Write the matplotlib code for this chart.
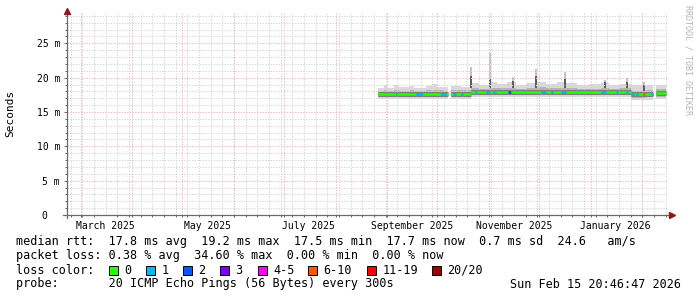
import numpy as np
import matplotlib
matplotlib.use("Agg")
import matplotlib.pyplot as plt
import matplotlib.dates as mdates
from matplotlib.patches import Rectangle

plt.rcParams['font.family'] = ['DejaVu Sans Mono', 'DejaVu Sans']

# graph covers 360 days up to the timestamp
t_end = np.datetime64("2026-02-15T20:46:47")
t_start = t_end - np.timedelta64(360, "D")
data_end = "2026-02-15T09:00"

# median rtt (ms) per segment and loss bucket, nan = no data
med_start = ["2025-08-26T06:00", "2025-09-06T00:00", "2025-09-07T00:00", "2025-09-18T12:00",
             "2025-09-22T18:00", "2025-10-03T12:00", "2025-10-06T00:00", "2025-10-07T18:00",
             "2025-10-09T12:00", "2025-10-10T18:00", "2025-10-12T00:00", "2025-10-15T12:00",
             "2025-10-16T12:00", "2025-10-21T00:00", "2025-10-23T12:00", "2025-10-25T00:00",
             "2025-10-30T00:00", "2025-11-01T12:00", "2025-11-03T18:00", "2025-11-05T00:00",
             "2025-11-12T18:00", "2025-11-14T12:00", "2025-12-02T00:00", "2025-12-05T00:00",
             "2025-12-08T00:00", "2025-12-09T18:00", "2025-12-14T12:00", "2025-12-17T00:00",
             "2026-01-07T12:00", "2026-01-10T00:00", "2026-01-16T00:00", "2026-01-17T18:00",
             "2026-01-22T00:00", "2026-01-23T18:00", "2026-01-25T00:00", "2026-01-27T00:00",
             "2026-01-28T00:00", "2026-01-29T12:00", "2026-02-01T12:00", "2026-02-02T12:00",
             "2026-02-06T00:00", "2026-02-07T06:00", "2026-02-09T00:00"]
med_ms = [17.6, 17.6, 17.6, 17.6, 17.6, 17.6, 17.6, np.nan,
          17.6, 17.6, 17.6, 17.6, 17.6, 17.85, 17.85, 17.85,
          17.85, 17.85, 17.85, 17.85, 17.85, 17.85, 17.85, 17.85,
          17.85, 17.85, 17.85, 17.85, 17.85, 17.85, 17.85, 17.85,
          17.85, 17.85, 17.6, 17.6, 17.6, 17.6, 17.6, 17.65,
          17.65, np.nan, 17.75]
med_loss = [0, 1, 0, 1, 0, 1, 0, 0,
            0, 1, 0, 1, 0, 0, 1, 0,
            1, 0, 1, 0, 2, 0, 1, 0,
            1, 0, 1, 0, 1, 0, 1, 0,
            1, 0, 1, 0, 1, 0, 5, 0,
            1, 0, 0]

# smoke: spread of the 20 pings (ms), outer and inner band
smoke_start = ["2025-08-26T06:00", "2025-08-30", "2025-09-01", "2025-09-05", "2025-09-08",
               "2025-09-14", "2025-09-17", "2025-09-24", "2025-09-28", "2025-10-01",
               "2025-10-05", "2025-10-07T18:00", "2025-10-09T12:00", "2025-10-15", "2025-10-21",
               "2025-10-26", "2025-11-01", "2025-11-06", "2025-11-12", "2025-11-17",
               "2025-11-24", "2025-11-29", "2025-12-05", "2025-12-12", "2025-12-17",
               "2025-12-24", "2025-12-31", "2026-01-07", "2026-01-12", "2026-01-18",
               "2026-01-25", "2026-02-03", "2026-02-07T06:00", "2026-02-09"]
smoke_lo = [16.85, 16.85, 16.9, 16.85, 16.85, 16.9, 16.85, 16.9, 16.85, 16.9,
            16.85, np.nan, 16.85, 16.85, 17.2, 17.25, 17.2, 17.25, 17.2, 17.25,
            17.2, 17.25, 17.2, 17.25, 17.2, 17.25, 17.2, 17.2, 17.25, 17.2,
            16.75, 16.8, np.nan, 16.85]
smoke_lo2 = [17.15, 17.15, 17.2, 17.2, 17.15, 17.2, 17.15, 17.2, 17.15, 17.2,
             17.15, np.nan, 17.15, 17.2, 17.5, 17.5, 17.5, 17.5, 17.5, 17.5,
             17.5, 17.55, 17.5, 17.5, 17.5, 17.5, 17.5, 17.5, 17.5, 17.5,
             17.1, 17.15, np.nan, 17.2]
smoke_hi2 = [18.1, 18.15, 18.1, 18.2, 18.1, 18.2, 18.1, 18.2, 18.15, 18.2,
             18.1, np.nan, 18.2, 18.2, 18.5, 18.4, 18.5, 18.5, 18.5, 18.4,
             18.5, 18.6, 18.5, 18.5, 18.5, 18.4, 18.4, 18.5, 18.4, 18.5,
             18.1, 18.2, np.nan, 18.3]
smoke_hi = [18.5, 18.9, 18.55, 19.0, 18.6, 18.85, 18.55, 18.8, 19.1, 18.7,
            18.6, np.nan, 18.8, 18.7, 19.2, 19.0, 19.3, 19.1, 19.3, 19.0,
            19.2, 19.4, 19.1, 19.3, 19.2, 19.0, 19.1, 19.2, 19.0, 19.1,
            18.9, 18.9, np.nan, 18.9]

# single tall pings
spike_t = ["2025-10-21T06:00", "2025-11-01T18:00", "2025-11-15T18:00", "2025-11-29T00:00",
           "2025-12-16T12:00", "2026-01-09T12:00", "2026-01-22T18:00", "2026-02-02T00:00"]
spike_mid = [20.2, 19.8, 19.5, 20.3, 19.8, 19.3, 19.4, 19.0]
spike_top = [21.6, 23.6, 20.1, 21.3, 20.8, 19.6, 19.9, 19.3]

loss_labels = ["0", "1", "2", "3", "4-5", "6-10", "11-19", "20/20"]
loss_colors = ["#26ff00", "#00b8ff", "#0059ff", "#7e00ff", "#ff00ff", "#ff5500", "#ff0000", "#a10000"]

y_ticks = [0, 5, 10, 15, 20, 25]
y_labels = ["0  ", "5 m", "10 m", "15 m", "20 m", "25 m"]
x_label_dates = ["2025-03-16", "2025-05-16", "2025-07-16", "2025-09-16", "2025-11-16", "2026-01-16"]
x_label_text = ["March 2025", "May 2025", "July 2025", "September 2025", "November 2025", "January 2026"]

legend_rows = [
    "median rtt:  17.8 ms avg  19.2 ms max  17.5 ms min  17.7 ms now  0.7 ms sd  24.6   am/s",
    "packet loss: 0.38 % avg  34.60 % max  0.00 % min  0.00 % now",
    "loss color:",
    "probe:       20 ICMP Echo Pings (56 Bytes) every 300s",
]
stamp = "Sun Feb 15 20:46:47 2026"


def num(dates):
    return mdates.date2num(np.array(dates, dtype="datetime64[m]"))


W, H = 697, 297
fig = plt.figure(figsize=(W / 100, H / 100), dpi=100)
fig.patch.set_facecolor("white")
ax = fig.add_axes([67 / W, (H - 215) / H, 600 / W, 203 / H])
x0, x1 = num([t_start, t_end])
ax.set_xlim(x0, x1)
ax.set_ylim(0, 29.56)
for s in ax.spines.values():
    s.set_visible(False)

# smoke
sx = num(smoke_start + [data_end])
sw = np.diff(sx)
lo, lo2, hi2, hi = (np.array(a) for a in (smoke_lo, smoke_lo2, smoke_hi2, smoke_hi))
ax.bar(sx[:-1], hi - lo, width=sw, bottom=lo, align="edge", color="#d9d9d9", lw=0, zorder=1)
ax.bar(sx[:-1], hi2 - lo2, width=sw, bottom=lo2, align="edge", color="#b4b4b4", lw=0, zorder=1.1)
st = num(spike_t)
base = hi2[np.searchsorted(sx, st) - 1]
ax.vlines(st, base, spike_top, color="#b0b0b0", lw=1.1, zorder=1.2)
ax.vlines(st, base, spike_mid, color="#404040", lw=1.1, zorder=1.3)

# grid
mgrid = dict(color="#f0bcbc", lw=0.75, ls=(0, (1.3, 1.3)), zorder=2)
grid = dict(color="#d8d8d8", lw=0.75, ls=(0, (1.3, 1.3)), zorder=1.9)
d0, d1 = mdates.num2date(x0), mdates.num2date(x1)
weeks = mdates.WeekdayLocator(byweekday=mdates.SU).tick_values(d0, d1)
months = mdates.MonthLocator().tick_values(d0, d1)
weeks = weeks[(weeks > x0) & (weeks < x1)]
months = months[(months > x0) & (months < x1)]
for w in weeks:
    ax.axvline(w, **grid)
for m in months:
    ax.axvline(m, **mgrid)
for v in range(1, 30):
    ax.axhline(v, **(mgrid if v % 5 == 0 else grid))

# median line coloured by loss
mx = num(med_start + [data_end])
ax.hlines(med_ms, mx[:-1], mx[1:], color="#6e6e6e", lw=3.3, zorder=3)
ax.hlines(med_ms, mx[:-1], mx[1:], color=[loss_colors[i] for i in med_loss], lw=1.9, zorder=3.1)

# ticks
tick_c = "#6a6a6a"
ax.set_yticks(y_ticks, y_labels)
ax.set_yticks(np.arange(1, 30), minor=True)
ax.set_xticks(num(x_label_dates), x_label_text)
ax.set_xticks(np.concatenate([weeks, months]), minor=True)
ax.tick_params(axis="y", which="major", length=2.2, width=0.75, color=tick_c, pad=2.8, labelsize=7)
ax.tick_params(axis="y", which="minor", length=1.5, width=0.75, color=tick_c)
ax.tick_params(axis="x", which="major", length=0, pad=4, labelsize=7)
ax.tick_params(axis="x", which="minor", length=1.5, width=0.75, color=tick_c)

# axes with arrows
ax.plot([-4 / 600, 602 / 600], [0, 0], transform=ax.transAxes, color=tick_c, lw=0.9, clip_on=False, zorder=5)
ax.plot([0, 0], [-3 / 203, 201 / 203], transform=ax.transAxes, color=tick_c, lw=0.9, clip_on=False, zorder=5)
ax.plot([605 / 600], [0], transform=ax.transAxes, marker=">", ms=4, color="#8b1a1a", clip_on=False, zorder=6)
ax.plot([0], [204 / 203], transform=ax.transAxes, marker="^", ms=4, color="#8b1a1a", clip_on=False, zorder=6)

fig.text(10 / W, 1 - 113 / H, "Seconds", rotation=90, ha="center", va="center", fontsize=8)
fig.text(688 / W, 1 - 5 / H, "RRDTOOL / TOBI OETIKER", rotation=270, ha="center", va="top",
         fontsize=6, color="#b4b4b4")

# legend
rows_y = [241, 256, 270, 284]
for txt, y in zip(legend_rows, rows_y):
    fig.text(16 / W, 1 - y / H, txt, ha="left", va="center", fontsize=8.5)
fig.text(681 / W, 1 - rows_y[3] / H, stamp, ha="right", va="center", fontsize=8.5)
box_x = [108.5, 146, 183, 220, 257.5, 308, 367, 431.5]
for bx, lab, col in zip(box_x, loss_labels, loss_colors):
    fig.add_artist(Rectangle((bx / W, 1 - (rows_y[2] + 4.5) / H), 9 / W, 9 / H,
                             transform=fig.transFigure, facecolor=col, edgecolor="black", lw=0.7))
    fig.text((bx + 15.5) / W, 1 - rows_y[2] / H, lab, ha="left", va="center", fontsize=8.5)

fig.savefig("out.png", dpi=100, facecolor="white")
